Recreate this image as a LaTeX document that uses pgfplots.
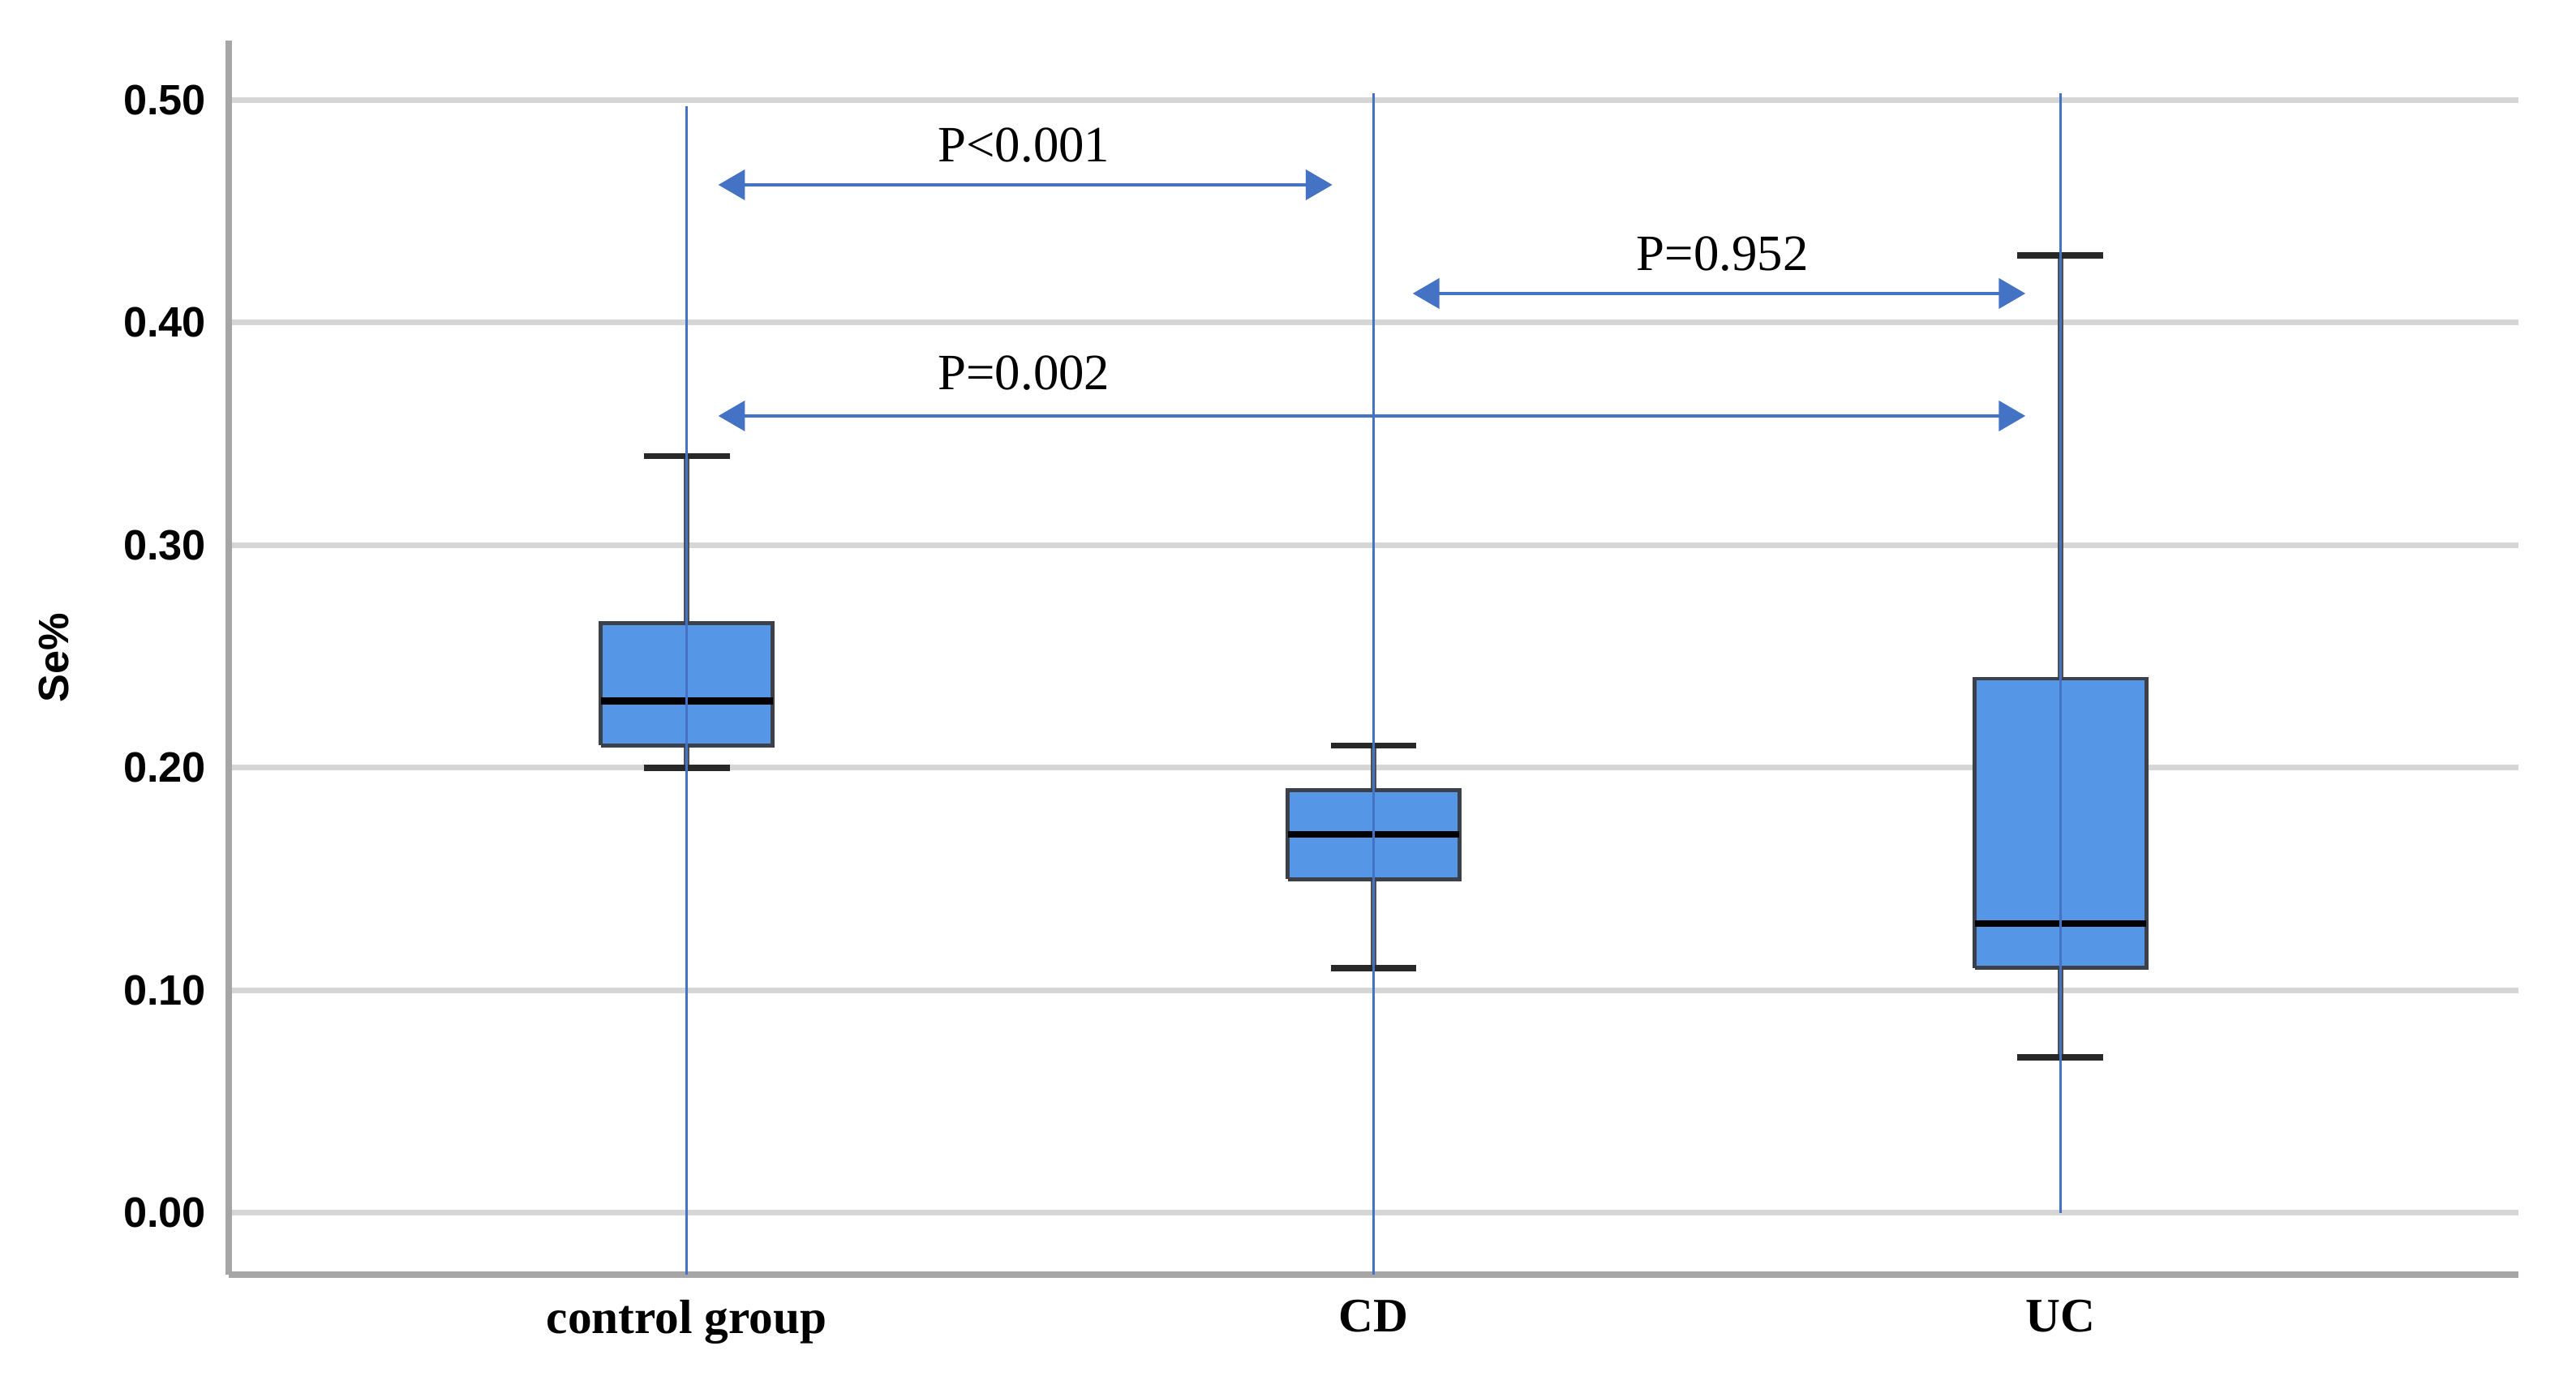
\documentclass[border=0pt]{standalone}
\usepackage{fontspec}
\setmainfont{Liberation Serif}
\newfontfamily\sansf{Liberation Sans}
\usepackage{pgfplots}
\pgfplotsset{compat=1.18}
\usetikzlibrary{arrows.meta}

\definecolor{boxblue}{RGB}{85,150,230}
\definecolor{boxedge}{RGB}{60,64,72}
\definecolor{whisk}{RGB}{80,80,80}
\definecolor{capcol}{RGB}{40,40,40}
\definecolor{lineblue}{RGB}{68,114,196}
\definecolor{gridgray}{RGB}{214,214,214}
\definecolor{axisgray}{RGB}{166,166,166}

\pgfplotsset{
    whiskerline/.style={whisk, line width=1.1pt, forget plot},
    capline/.style={capcol, line width=1.1pt, forget plot},
    boxshape/.style={fill=boxblue, draw=boxedge, line width=0.7pt, line join=miter, forget plot},
    medline/.style={black, line width=1.2pt, forget plot},
    refline/.style={lineblue, line width=0.45pt},
    parrow/.style={lineblue, line width=0.6pt,
        {Triangle[length=4.7pt,width=5.3pt]}-{Triangle[length=4.7pt,width=5.3pt]}},
}

\begin{document}
\begin{tikzpicture}
\useasboundingbox (-1.421,-0.625) rectangle (14.580,7.920);
\begin{axis}[
    scale only axis,
    width=14.222cm,
    height=7.668cm,
    xmin=0.3333, xmax=3.6667,
    ymin=-0.0277, ymax=0.5266,
    clip=false,
    axis x line=bottom,
    axis y line=left,
    axis line style={-, draw=axisgray, line width=1.1pt},
    major tick length=0pt,
    xtick={1,2,3},
    xticklabels={control group, CD, UC},
    ytick={0,0.1,0.2,0.3,0.4,0.5},
    yticklabel style={/pgf/number format/fixed, /pgf/number format/fixed zerofill,
        /pgf/number format/precision=2, /pgf/number format/assume math mode=true,
        font=\sansf\bfseries\fontsize{7.5}{9}\selectfont, xshift=-0.5pt},
    xticklabel style={font=\bfseries\fontsize{8.5}{10}\selectfont, yshift=-1pt},
    ymajorgrids,
    grid style={gridgray, line width=1pt},
    ylabel={Se\%},
    ylabel style={font=\sansf\bfseries\fontsize{7.5}{9}\selectfont,
        at={(axis description cs:-0.0762,0.5)}, anchor=center},
]
% control group: whiskers 0.20/0.34, box 0.21-0.265, median 0.23
\addplot[whiskerline] coordinates {(1,0.265) (1,0.34)};
\addplot[whiskerline] coordinates {(1,0.21) (1,0.20)};
\addplot[capline] coordinates {(0.9375,0.34) (1.0625,0.34)};
\addplot[capline] coordinates {(0.9375,0.20) (1.0625,0.20)};
\addplot[boxshape] coordinates {(0.875,0.21) (1.125,0.21) (1.125,0.265) (0.875,0.265) (0.875,0.21)};
\addplot[medline] coordinates {(0.875,0.23) (1.125,0.23)};

% CD: whiskers 0.11/0.21, box 0.15-0.19, median 0.17
\addplot[whiskerline] coordinates {(2,0.19) (2,0.21)};
\addplot[whiskerline] coordinates {(2,0.15) (2,0.11)};
\addplot[capline] coordinates {(1.9375,0.21) (2.0625,0.21)};
\addplot[capline] coordinates {(1.9375,0.11) (2.0625,0.11)};
\addplot[boxshape] coordinates {(1.875,0.15) (2.125,0.15) (2.125,0.19) (1.875,0.19) (1.875,0.15)};
\addplot[medline] coordinates {(1.875,0.17) (2.125,0.17)};

% UC: whiskers 0.07/0.43, box 0.11-0.24, median 0.13
\addplot[whiskerline] coordinates {(3,0.24) (3,0.43)};
\addplot[whiskerline] coordinates {(3,0.11) (3,0.07)};
\addplot[capline] coordinates {(2.9375,0.43) (3.0625,0.43)};
\addplot[capline] coordinates {(2.9375,0.07) (3.0625,0.07)};
\addplot[boxshape] coordinates {(2.875,0.11) (3.125,0.11) (3.125,0.24) (2.875,0.24) (2.875,0.11)};
\addplot[medline] coordinates {(2.875,0.13) (3.125,0.13)};

% blue reference lines through each group
\addplot[refline] coordinates {(1,0.497) (1,-0.0277)};
\addplot[refline] coordinates {(2,0.503) (2,-0.0277)};
\addplot[refline] coordinates {(3,0.503) (3,0)};

% comparison arrows
\addplot[parrow] coordinates {(1.046,0.4618) (1.940,0.4618)};
\addplot[parrow] coordinates {(2.057,0.413) (2.949,0.413)};
\addplot[parrow] coordinates {(1.046,0.358) (2.949,0.358)};

\node[anchor=base, font=\fontsize{9}{11}\selectfont] at (axis cs:1.491,0.472) {P<0.001};
\node[anchor=base, font=\fontsize{9}{11}\selectfont] at (axis cs:2.508,0.4235) {P=0.952};
\node[anchor=base, font=\fontsize{9}{11}\selectfont] at (axis cs:1.491,0.370) {P=0.002};
\end{axis}
\end{tikzpicture}
\end{document}
